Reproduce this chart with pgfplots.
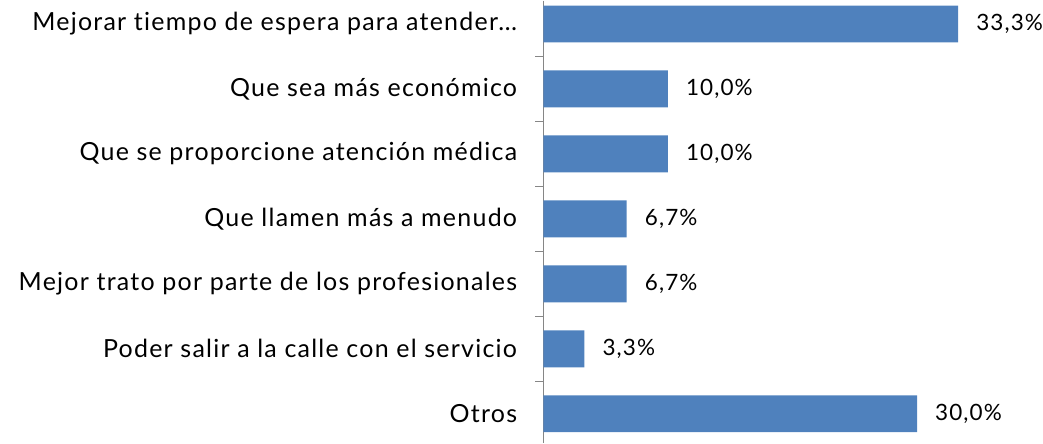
\documentclass[border=0pt]{standalone}
\usepackage{fontspec}
\setmainfont{Lato}[LetterSpace=5, Ligatures={NoCommon}]
\usepackage{pgfplots}
\pgfplotsset{compat=1.18}
\definecolor{barblue}{HTML}{4F81BD}
\definecolor{axgray}{HTML}{868686}
\begin{document}
\begin{tikzpicture}
\begin{axis}[
  xbar,
  scale only axis,
  width=499pt, height=443pt,
  xmin=0, xmax=40,
  ymin=-0.36, ymax=6.45,
  y dir=reverse,
  bar width=37pt,
  axis y line*=left,
  hide x axis,
  y axis line style={draw=axgray, line width=1.2pt},
  ytick={0,...,6},
  yticklabels={Mejorar tiempo de espera para atender…,
               Que sea más económico,
               Que se proporcione atención médica,
               Que llamen más a menudo,
               Mejor trato por parte de los profesionales,
               Poder salir a la calle con el servicio,
               Otros},
  major tick length=0pt,
  minor ytick={0.5,1.5,2.5,3.5,4.5,5.5},
  minor tick length=8pt,
  tick align=outside,
  minor tick style={draw=axgray, line width=1.2pt},
  yticklabel style={font=\fontsize{25}{30}\selectfont, inner sep=0pt, xshift=-26pt},
  nodes near coords={\pgfmathprintnumber[fixed,fixed zerofill,precision=1,use comma,assume math mode=true]{\pgfplotspointmeta}\%},
  every node near coord/.append style={font=\fontsize{22.5}{27}\selectfont, text=black, anchor=west, inner sep=0pt, xshift=18pt},
  clip=false,
]
\addplot+[fill=barblue, draw=none] coordinates
  {(33.3,0) (10.0,1) (10.0,2) (6.7,3) (6.7,4) (3.3,5) (30.0,6)};
\end{axis}
\path (current axis.south west) ++(-544pt,0) rectangle (current axis.north east);
\end{tikzpicture}
\end{document}
